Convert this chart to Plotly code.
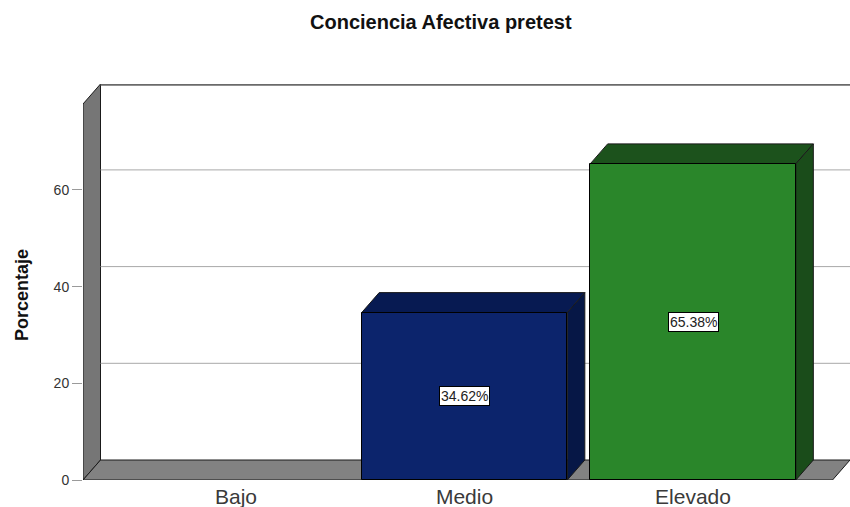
import plotly.graph_objects as go

# Data
categories = ["Bajo", "Medio", "Elevado"]
percentages = [0.0, 34.62, 65.38]
y_ticks = [0, 20, 40, 60]

front_colors = ["#6b6b6b", "#0c246c", "#2a862a"]
top_colors = ["#555555", "#071a52", "#1c521c"]
side_colors = ["#4a4a4a", "#061746", "#1a4c1a"]

# Canvas / plot-area geometry (pixels)
W, H = 850, 507
ML, MR, MT, MB = 83, 0, 84, 27
PX_PER_CAT = 228.5        # horizontal distance between category centres
FIRST_CAT_PX = 236        # pixel position of the first category centre
PX_PER_UNIT_Y = 4.835     # pixels per percentage point
DEPTH_PX_X, DEPTH_PX_Y = 17.5, 20.0
BAR_WIDTH = 0.9

plot_w = W - ML - MR
plot_h = H - MT - MB
x_min = -(FIRST_CAT_PX - ML) / PX_PER_CAT
x_max = x_min + plot_w / PX_PER_CAT
y_max = plot_h / PX_PER_UNIT_Y
DX = DEPTH_PX_X / PX_PER_CAT
DY = DEPTH_PX_Y / PX_PER_UNIT_Y


def paper_x(px):
    return (px - ML) / plot_w


def paper_y(py):
    return (H - MB - py) / plot_h


x_pos = list(range(len(categories)))
FONT = "Liberation Sans, Arial, sans-serif"

fig = go.Figure()

fig.add_trace(go.Bar(
    x=x_pos,
    y=[v if v > 0 else None for v in percentages],
    width=BAR_WIDTH,
    marker=dict(color=front_colors, line=dict(color="#000000", width=1)),
    hoverinfo="skip",
    showlegend=False,
))

shapes = []
edge = dict(color="#1a1a1a", width=1)

# left wall
shapes.append(dict(
    type="path", xref="x", yref="y", layer="below",
    path=f"M {x_min},0 L {x_min},{y_max - DY} L {x_min + DX},{y_max} "
         f"L {x_min + DX},{DY} Z",
    fillcolor="#767676", line=edge))

# floor
shapes.append(dict(
    type="path", xref="x", yref="y", layer="below",
    path=f"M {x_min},0 L {x_min + DX},{DY} L {x_max},{DY} L {x_max - DX},0 Z",
    fillcolor="#828282", line=edge))

# top edge of the back wall
shapes.append(dict(
    type="line", xref="x", yref="y", layer="below",
    x0=x_min + DX, x1=x_max, y0=y_max - 0.15, y1=y_max - 0.15,
    line=dict(color="#6a6a6a", width=2)))

# gridlines on the back wall
for t in y_ticks[1:]:
    shapes.append(dict(
        type="line", xref="x", yref="y", layer="below",
        x0=x_min + DX, x1=x_max, y0=t + DY, y1=t + DY,
        line=dict(color="#a8a8a8", width=1)))

# top and side faces of each bar
half = BAR_WIDTH / 2
for xi, v, tc, sc in zip(x_pos, percentages, top_colors, side_colors):
    if v <= 0:
        continue
    xl, xr = xi - half, xi + half
    shapes.append(dict(
        type="path", xref="x", yref="y", layer="below",
        path=f"M {xl},{v} L {xl + DX},{v + DY} L {xr + DX},{v + DY} L {xr},{v} Z",
        fillcolor=tc, line=edge))
    shapes.append(dict(
        type="path", xref="x", yref="y", layer="below",
        path=f"M {xr},{v} L {xr + DX},{v + DY} L {xr + DX},{DY} L {xr},0 Z",
        fillcolor=sc, line=edge))

annotations = []
for xi, v in zip(x_pos, percentages):
    if v <= 0:
        continue
    annotations.append(dict(
        x=xi, y=v / 2, xref="x", yref="y",
        text=f"{v:.2f}%", showarrow=False,
        font=dict(family=FONT, size=14, color="#222222"),
        bgcolor="#ffffff", bordercolor="#000000", borderwidth=1, borderpad=1,
    ))

# axis title
annotations.append(dict(
    x=paper_x(22), y=paper_y(295), xref="paper", yref="paper",
    text="<b>Porcentaje</b>", textangle=-90, showarrow=False,
    font=dict(family=FONT, size=18, color="#111111"),
    xanchor="center", yanchor="middle",
))

# chart title
annotations.append(dict(
    x=paper_x(441), y=paper_y(22), xref="paper", yref="paper",
    text="<b>Conciencia Afectiva pretest</b>", showarrow=False,
    font=dict(family=FONT, size=20, color="#111111"),
    xanchor="center", yanchor="middle",
))

fig.update_layout(
    width=W, height=H,
    margin=dict(l=ML, r=MR, t=MT, b=MB, pad=0),
    paper_bgcolor="#ffffff", plot_bgcolor="#ffffff",
    shapes=shapes, annotations=annotations,
    bargap=0,
    xaxis=dict(
        range=[x_min, x_max], tickvals=x_pos, ticktext=categories,
        showgrid=False, zeroline=False, showline=False, ticks="",
        ticklabelstandoff=2,
        tickfont=dict(family=FONT, size=21, color="#3a3a3a"),
        fixedrange=True,
    ),
    yaxis=dict(
        range=[0, y_max], tickvals=y_ticks,
        showgrid=False, zeroline=False, showline=False,
        ticks="outside", ticklen=10, tickcolor="#9a9a9a", tickwidth=1,
        tickfont=dict(family=FONT, size=14, color="#333333"),
        fixedrange=True,
    ),
)

fig.write_html("out.html", config={"displayModeBar": False})
